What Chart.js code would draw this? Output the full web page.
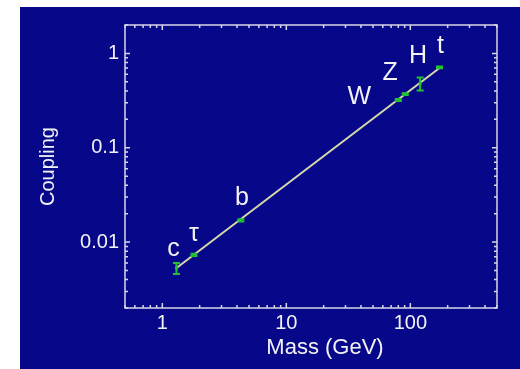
<!DOCTYPE html>
<html>
<head>
<meta charset="utf-8">
<script src="https://cdn.jsdelivr.net/npm/chart.js@4/dist/chart.umd.min.js"></script>
<style>
  html, body { margin: 0; padding: 0; background: #ffffff; }
  #chart { position: absolute; left: 20px; top: 7px; background: #07078a; }
</style>
</head>
<body>
<canvas id="chart" width="500" height="362"></canvas>
<script>
// particles, mass in GeV, coupling
var names = ['c', 'τ', 'b', 'W', 'Z', 'H', 't'];
var masses = [1.3, 1.8, 4.3, 80, 91, 120, 172];
var couplings = [0.0053, 0.0073, 0.017, 0.32, 0.37, 0.48, 0.71];
var couplingErr = [0.0007, 0.0002, 0.0005, 0.008, 0.008, 0.075, 0.015];

// straight fit through the points
var fitMass = [1.3, 172];
var fitCoupling = [0.0053, 0.70];

var xTickValues = [1, 10, 100];
var xTickLabels = ['1', '10', '100'];
var yTickValues = [0.01, 0.1, 1];
var yTickLabels = ['0.01', '0.1', '1'];
var xTitle = 'Mass (GeV)';

// label placement next to each point, pixels
var labelDx = [-3, 0, 1, -39, -15, -2, 1];
var labelDy = [-12, -14, -15, 4, -14, -20, -14];

var fg = '#f2f2f4';
var frameColor = '#d6d6e6';
var green = '#22c232';
var fontFamily = '"Liberation Sans", Arial, sans-serif';

function sameValue(a, b) {
    return Math.abs(a / b - 1) < 1e-9;
}

function labelFor(values, labels, v) {
    for (var i = 0; i < values.length; i++) {
        if (sameValue(values[i], v)) {
            return labels[i];
        }
    }
    return '';
}

function logTicks(scale) {
    var ticks = [];
    var lo = Math.floor(Math.log10(scale.min));
    var hi = Math.ceil(Math.log10(scale.max));
    for (var k = lo; k <= hi; k++) {
        for (var n = 1; n <= 9; n++) {
            var v = n * Math.pow(10, k);
            if (v >= scale.min * 0.999 && v <= scale.max * 1.001) {
                ticks.push({ value: v, major: n === 1 });
            }
        }
    }
    scale.ticks = ticks;
}

var framePlugin = {
    id: 'frame',
    afterDraw: function (chart) {
        var ctx = chart.ctx;
        var a = chart.chartArea;
        var xs = chart.scales.x;
        var ys = chart.scales.y;
        ctx.save();
        ctx.strokeStyle = frameColor;
        ctx.lineWidth = 1.5;
        ctx.strokeRect(a.left, a.top, a.right - a.left, a.bottom - a.top);
        ctx.beginPath();
        xs.ticks.forEach(function (t) {
            var px = xs.getPixelForValue(t.value);
            var len = t.major ? 5 : 3;
            ctx.moveTo(px, a.bottom);
            ctx.lineTo(px, a.bottom - len);
            ctx.moveTo(px, a.top);
            ctx.lineTo(px, a.top + len);
        });
        ys.ticks.forEach(function (t) {
            var py = ys.getPixelForValue(t.value);
            var len = t.major ? 5 : 3;
            ctx.moveTo(a.left, py);
            ctx.lineTo(a.left + len, py);
            ctx.moveTo(a.right, py);
            ctx.lineTo(a.right - len, py);
        });
        ctx.stroke();

        // x title sits a little right of the plot centre in the original
        ctx.fillStyle = fg;
        ctx.font = '22px ' + fontFamily;
        ctx.textAlign = 'center';
        ctx.textBaseline = 'middle';
        ctx.fillText(xTitle, (a.left + a.right) / 2 + 14, xs.bottom - 21);
        ctx.restore();
    }
};

var errorBarPlugin = {
    id: 'errorBars',
    afterDatasetsDraw: function (chart) {
        var ctx = chart.ctx;
        var xs = chart.scales.x;
        var ys = chart.scales.y;
        ctx.save();
        ctx.strokeStyle = green;
        ctx.lineWidth = 2;
        ctx.beginPath();
        for (var i = 0; i < masses.length; i++) {
            var px = xs.getPixelForValue(masses[i]);
            var top = ys.getPixelForValue(couplings[i] + couplingErr[i]);
            var bot = ys.getPixelForValue(couplings[i] - couplingErr[i]);
            ctx.moveTo(px, top);
            ctx.lineTo(px, bot);
            ctx.moveTo(px - 3.5, top);
            ctx.lineTo(px + 3.5, top);
            ctx.moveTo(px - 3.5, bot);
            ctx.lineTo(px + 3.5, bot);
        }
        ctx.stroke();

        ctx.fillStyle = fg;
        ctx.font = '25px ' + fontFamily;
        ctx.textAlign = 'center';
        ctx.textBaseline = 'alphabetic';
        for (var j = 0; j < names.length; j++) {
            var lx = xs.getPixelForValue(masses[j]) + labelDx[j];
            var ly = ys.getPixelForValue(couplings[j]) + labelDy[j];
            ctx.fillText(names[j], lx, ly);
        }
        ctx.restore();
    }
};

var points = [];
for (var i = 0; i < masses.length; i++) {
    points.push({ x: masses[i], y: couplings[i] });
}
var fit = [];
for (var j = 0; j < fitMass.length; j++) {
    fit.push({ x: fitMass[j], y: fitCoupling[j] });
}

var config = {
    type: 'scatter',
    data: {
        datasets: [{
            label: 'particles',
            data: points,
            pointStyle: 'rect',
            pointRadius: 2,
            backgroundColor: green,
            borderColor: green,
            borderWidth: 0,
            order: 0
        }, {
            label: 'fit',
            data: fit,
            showLine: true,
            borderColor: '#d8d8a8',
            borderWidth: 2,
            pointRadius: 0,
            order: 1
        }]
    },
    options: {
        responsive: false,
        animation: false,
        devicePixelRatio: 1,
        layout: {
            padding: { top: 16, right: 23, left: 0, bottom: 0 }
        },
        plugins: {
            legend: { display: false },
            tooltip: { enabled: false }
        },
        scales: {
            x: {
                type: 'logarithmic',
                min: 0.5,
                max: 500,
                afterBuildTicks: logTicks,
                afterFit: function (scale) { scale.height = 61; },
                grid: { display: false, drawTicks: false },
                border: { display: false },
                ticks: {
                    autoSkip: false,
                    maxRotation: 0,
                    padding: 3,
                    color: fg,
                    font: { family: fontFamily, size: 20 },
                    callback: function (v) { return labelFor(xTickValues, xTickLabels, v); }
                }
            },
            y: {
                type: 'logarithmic',
                min: 0.002,
                max: 2,
                afterBuildTicks: logTicks,
                afterFit: function (scale) { scale.width = 105; },
                grid: { display: false, drawTicks: false },
                border: { display: false },
                ticks: {
                    autoSkip: false,
                    padding: 6,
                    color: fg,
                    font: { family: fontFamily, size: 20 },
                    callback: function (v) { return labelFor(yTickValues, yTickLabels, v); }
                },
                title: {
                    display: true,
                    text: 'Coupling',
                    color: fg,
                    padding: { top: 16, bottom: 0 },
                    font: { family: fontFamily, size: 20 }
                }
            }
        }
    },
    plugins: [framePlugin, errorBarPlugin]
};

var ctx = document.getElementById('chart').getContext('2d');
new Chart(ctx, config);
</script>
</body>
</html>
